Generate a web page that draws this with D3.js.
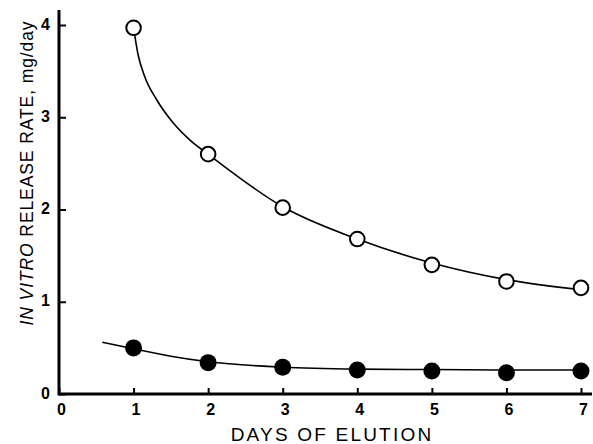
<!DOCTYPE html>
<html>
<head>
<meta charset="utf-8">
<script src="https://cdn.jsdelivr.net/npm/d3@7"></script>
<style>
  html, body { margin: 0; padding: 0; background: #fff; }
  svg { display: block; }
  text { font-family: "Liberation Sans", Arial, Helvetica, sans-serif; fill: #000; }
</style>
</head>
<body>
<svg id="chart" width="593" height="444"></svg>
<script>
// Days of elution
const days = [1, 2, 3, 4, 5, 6, 7];
// Measured release rates (mg/day)
const openSeries = [3.97, 2.60, 2.02, 1.68, 1.40, 1.22, 1.15];
const filledSeries = [0.50, 0.34, 0.29, 0.26, 0.25, 0.23, 0.25];
// Fitted curves drawn through the data
const openFitX = [1, 1.06, 1.15, 1.31, 1.53, 1.76, 2, 3, 4, 5, 6, 7];
const openFitY = [3.97, 3.68, 3.44, 3.19, 2.94, 2.75, 2.60, 2.03, 1.68, 1.42, 1.24, 1.13];
const filledFitX = [0.58, 1, 1.5, 2, 3, 4, 5, 6, 7];
const filledFitY = [0.56, 0.49, 0.41, 0.35, 0.29, 0.27, 0.265, 0.26, 0.26];
// Tick labels
const xTicks = [0, 1, 2, 3, 4, 5, 6, 7];
const yTicks = [0, 1, 2, 3, 4];

const svg = d3.select("#chart");
const x = d3.scaleLinear().domain([0, 7]).range([59, 581]);
const y = d3.scaleLinear().domain([0, 4]).range([394, 25]);

// Axis lines (run a little past the last tick)
svg.append("line").attr("x1", x(0)).attr("x2", 592).attr("y1", y(0)).attr("y2", y(0))
  .attr("stroke", "#000").attr("stroke-width", 3);
svg.append("line").attr("x1", x(0)).attr("x2", x(0)).attr("y1", y(0) + 1.5).attr("y2", 10)
  .attr("stroke", "#000").attr("stroke-width", 3);

const xAxis = svg.append("g").attr("transform", `translate(0,${y(0)})`)
  .call(d3.axisBottom(x).tickValues(xTicks).tickSizeInner(-6).tickSizeOuter(0).tickPadding(10)
    .tickFormat(d3.format("d")));
xAxis.select(".domain").remove();
xAxis.selectAll(".tick line").attr("stroke-width", 2);
xAxis.selectAll(".tick text").attr("font-size", 16).attr("font-weight", "bold")
  .attr("font-family", "'Liberation Sans', Arial, sans-serif").attr("dx", 2);

const yAxis = svg.append("g").attr("transform", `translate(${x(0)},0)`)
  .call(d3.axisLeft(y).tickValues(yTicks).tickSizeInner(-7).tickSizeOuter(0).tickPadding(9)
    .tickFormat(d3.format("d")));
yAxis.select(".domain").remove();
yAxis.selectAll(".tick line").attr("stroke-width", 2);
yAxis.selectAll(".tick text").attr("font-size", 16).attr("font-weight", "bold")
  .attr("font-family", "'Liberation Sans', Arial, sans-serif").attr("dy", "0.25em");

// Axis titles
svg.append("text").attr("x", 332).attr("y", 441).attr("text-anchor", "middle")
  .attr("font-size", 19).attr("letter-spacing", 2.2).text("DAYS OF ELUTION");

const yTitle = svg.append("text")
  .attr("transform", "translate(33,173) rotate(-90)")
  .attr("text-anchor", "middle").attr("font-size", 17.5).attr("letter-spacing", 0.9);
yTitle.append("tspan").attr("font-style", "italic").text("IN VITRO");
yTitle.append("tspan").text(" RELEASE RATE, mg/day");

// Fitted curves
const line = d3.line().x(d => x(d[0])).y(d => y(d[1])).curve(d3.curveMonotoneX);
svg.append("path").datum(d3.zip(openFitX, openFitY)).attr("d", line)
  .attr("fill", "none").attr("stroke", "#000").attr("stroke-width", 1.6);
svg.append("path").datum(d3.zip(filledFitX, filledFitY)).attr("d", line)
  .attr("fill", "none").attr("stroke", "#000").attr("stroke-width", 1.6);

// Data points
svg.selectAll("circle.open").data(d3.zip(days, openSeries)).join("circle")
  .attr("class", "open").attr("cx", d => x(d[0])).attr("cy", d => y(d[1])).attr("r", 7.3)
  .attr("fill", "#fff").attr("stroke", "#000").attr("stroke-width", 2);
svg.selectAll("circle.filled").data(d3.zip(days, filledSeries)).join("circle")
  .attr("class", "filled").attr("cx", d => x(d[0])).attr("cy", d => y(d[1])).attr("r", 8.5)
  .attr("fill", "#000");
</script>
</body>
</html>
